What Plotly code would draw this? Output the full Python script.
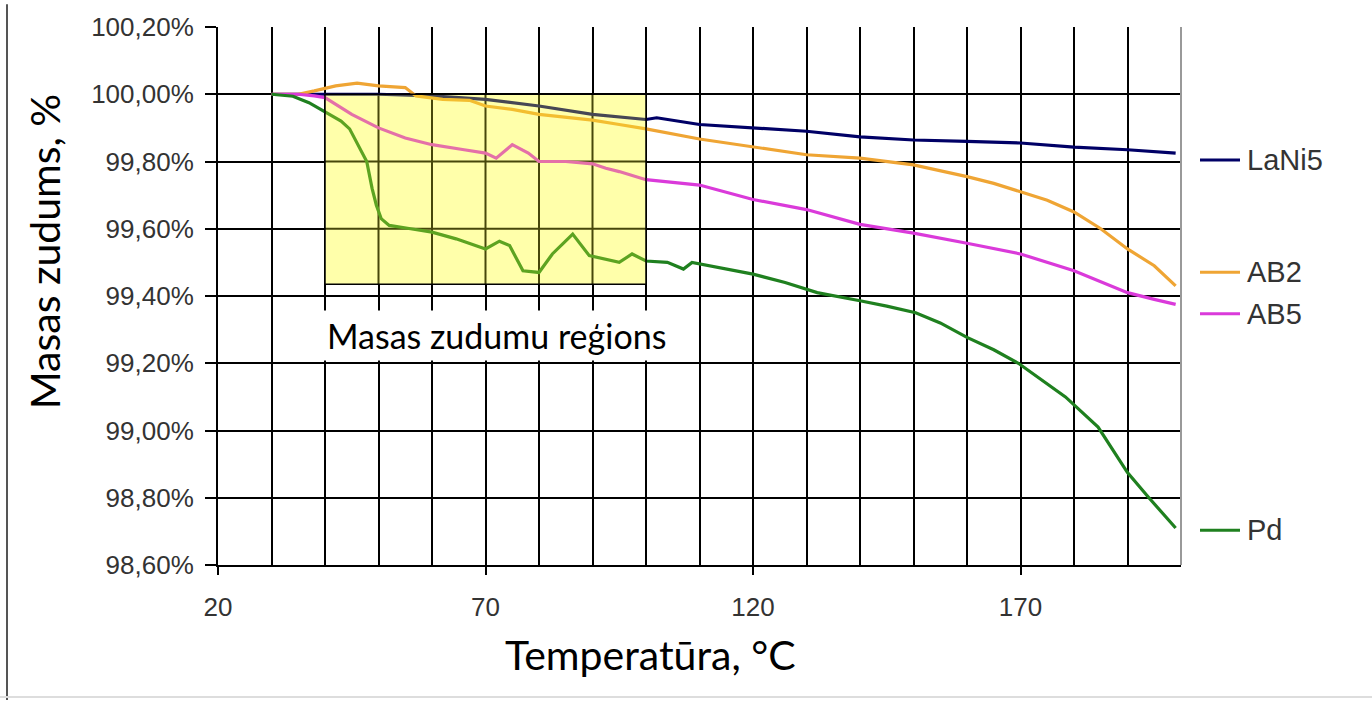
import plotly.graph_objects as go

# ---- data ----
lani5_T = [30, 35, 40, 50, 60, 70, 80, 90, 100, 102, 110, 120, 130, 140, 150, 160, 170, 180, 190, 199]
lani5_v = [100.00, 100.00, 100.00, 100.00, 99.995, 99.985, 99.965, 99.94, 99.925, 99.93, 99.91, 99.90,
           99.89, 99.873, 99.864, 99.86, 99.855, 99.843, 99.835, 99.825]

ab2_T = [30, 35, 38, 42, 46, 50, 55, 57, 62, 67, 70, 75, 80, 85, 90, 95, 100, 110, 120, 130, 140, 150,
         160, 165, 170, 175, 180, 185, 190, 195, 199]
ab2_v = [100.00, 100.00, 100.01, 100.025, 100.033, 100.025, 100.02, 99.995, 99.985, 99.982, 99.965, 99.955,
         99.94, 99.932, 99.923, 99.91, 99.897, 99.867, 99.843, 99.82, 99.81, 99.79, 99.755, 99.735, 99.71,
         99.685, 99.65, 99.60, 99.54, 99.49, 99.43]

ab5_T = [30, 35, 38, 40, 45, 50, 55, 60, 66, 70, 72, 75, 78, 80, 85, 90, 92.5, 95, 100, 110, 120, 130,
         140, 150, 160, 170, 180, 190, 195, 199]
ab5_v = [100.00, 100.00, 99.995, 99.99, 99.94, 99.90, 99.87, 99.85, 99.835, 99.825, 99.81, 99.85, 99.825,
         99.80, 99.80, 99.793, 99.78, 99.77, 99.746, 99.73, 99.687, 99.657, 99.613, 99.587, 99.557, 99.525,
         99.475, 99.41, 99.39, 99.375]

pd_T = [30, 34, 37, 40, 43, 44.6, 46.5, 47.8, 48.8, 49.6, 50.5, 52, 56, 60, 64.5, 68, 70, 72.6, 74.5, 77,
        80, 82.5, 86.3, 89.4, 92, 95, 97.4, 100, 104, 107, 108.6, 112, 120, 126, 132, 140, 145, 150.4, 155,
        160, 165, 169.6, 174, 178.4, 184.5, 190, 194, 199]
pd_v = [100.00, 99.994, 99.975, 99.947, 99.92, 99.897, 99.84, 99.80, 99.72, 99.67, 99.63, 99.61, 99.60,
        99.59, 99.57, 99.55, 99.54, 99.563, 99.55, 99.475, 99.47, 99.525, 99.584, 99.52, 99.51, 99.50,
        99.525, 99.504, 99.50, 99.48, 99.50, 99.49, 99.465, 99.44, 99.41, 99.386, 99.37, 99.35, 99.32,
        99.277, 99.24, 99.20, 99.15, 99.10, 99.01, 98.875, 98.80, 98.71]

series_names = ["LaNi5", "AB2", "AB5", "Pd"]
series_T = [lani5_T, ab2_T, ab5_T, pd_T]
series_v = [lani5_v, ab2_v, ab5_v, pd_v]
series_colors = ["#000066", "#EFA534", "#DA3ADA", "#1F801F"]

x_ticks = [20, 70, 120, 170]
x_grid = [20, 30, 40, 50, 60, 70, 80, 90, 100, 110, 120, 130, 140, 150, 160, 170, 180, 190, 200]
y_ticks = [98.6, 98.8, 99.0, 99.2, 99.4, 99.6, 99.8, 100.0, 100.2]
y_ticklabels = ["98,60%", "98,80%", "99,00%", "99,20%", "99,40%", "99,60%", "99,80%", "100,00%", "100,20%"]

region_x = [40, 100]
region_y = [99.435, 100.0]
region_label = "Masas zudumu reģions"

x_title = "Temperatūra, °C"
y_title = "Masas zudums, %"

# ---- figure ----
fig = go.Figure()
for name, T, v, c in zip(series_names, series_T, series_v, series_colors):
    fig.add_trace(go.Scatter(x=T, y=v, mode="lines", name=name,
                             line=dict(color=c, width=3.2), showlegend=False))

W, H = 1372, 701
L, R, TOP, B = 218, 191, 23, 136
pw, ph = W - L - R, H - TOP - B

def px_x(p):
    return (p - L) / pw

def px_y(p):
    return (H - B - p) / ph

tick_font = dict(family="Liberation Sans, Arial", size=26, color="#333333")

fig.update_layout(
    width=W, height=H,
    margin=dict(l=L, r=R, t=TOP, b=B, pad=0),
    plot_bgcolor="white", paper_bgcolor="white",
    xaxis=dict(range=[20, 200], tickvals=x_ticks, ticks="outside", ticklen=8, tickwidth=2,
               tickcolor="black", showgrid=True, gridcolor="black", gridwidth=2,
               minor=dict(tick0=20, dtick=10, showgrid=True, gridcolor="black", gridwidth=2, ticks=""),
               showline=True, linecolor="black", linewidth=2, zeroline=False,
               tickfont=tick_font, ticklabelstandoff=10),
    yaxis=dict(range=[98.6, 100.2], tickvals=y_ticks, ticktext=y_ticklabels, ticks="outside",
               ticklen=11, tickwidth=2, tickcolor="black", showgrid=True, gridcolor="black",
               gridwidth=2, showline=True, linecolor="black", linewidth=2, zeroline=False,
               tickfont=tick_font, ticklabelstandoff=6),
)

shapes = []
# highlighted region: pale yellow base (below the lines) ...
shapes.append(dict(type="rect", xref="x", yref="y", x0=region_x[0], x1=region_x[1],
                   y0=region_y[0], y1=region_y[1], fillcolor="#FFFFDD",
                   line=dict(width=0), layer="between"))
# ... with the grid redrawn on top of it (from the axis grid values) ...
for gx in x_grid:
    if region_x[0] < gx < region_x[1]:
        shapes.append(dict(type="line", xref="x", yref="y", x0=gx, x1=gx, y0=region_y[0],
                           y1=region_y[1], line=dict(color="black", width=2), layer="between"))
for gy in y_ticks:
    if region_y[0] < gy < region_y[1]:
        shapes.append(dict(type="line", xref="x", yref="y", x0=region_x[0], x1=region_x[1],
                           y0=gy, y1=gy, line=dict(color="black", width=2), layer="between"))
# ... and a translucent yellow tint above the lines
shapes.append(dict(type="rect", xref="x", yref="y", x0=region_x[0], x1=region_x[1],
                   y0=region_y[0], y1=region_y[1], fillcolor="rgba(255,255,40,0.28)",
                   line=dict(color="black", width=1.5), layer="above"))
# right plot border (grey)
shapes.append(dict(type="line", xref="paper", yref="paper", x0=1, x1=1, y0=0, y1=1,
                   line=dict(color="#999999", width=2)))
# frame lines of the slide
shapes.append(dict(type="line", xref="paper", yref="paper", x0=px_x(7), x1=px_x(7),
                   y0=px_y(701), y1=px_y(0), line=dict(color="#555555", width=2)))
shapes.append(dict(type="line", xref="paper", yref="paper", x0=px_x(0), x1=px_x(1372),
                   y0=px_y(698), y1=px_y(698), line=dict(color="#dddddd", width=2)))

# label lines at the right (Excel-style series labels)
label_py = [157, 270, 312, 530]
annotations = []
for name, c, py in zip(series_names, series_colors, label_py):
    shapes.append(dict(type="line", xref="paper", yref="paper", x0=px_x(1200), x1=px_x(1240),
                       y0=px_y(py), y1=px_y(py), line=dict(color=c, width=3)))
    annotations.append(dict(xref="paper", yref="paper", x=px_x(1245), y=px_y(py), text=name,
                            showarrow=False, xanchor="left", yanchor="middle",
                            font=dict(family="Liberation Sans, Arial", size=29, color="#333333")))

annotations.append(dict(xref="paper", yref="paper", x=px_x(496), y=px_y(334), text=region_label,
                        showarrow=False, xanchor="center", yanchor="middle", bgcolor="white",
                        borderpad=4, font=dict(family="Lato", size=34, color="black")))
annotations.append(dict(xref="paper", yref="paper", x=px_x(650), y=px_y(655), text=x_title,
                        showarrow=False, xanchor="center", yanchor="middle",
                        font=dict(family="Lato", size=41, color="black")))
annotations.append(dict(xref="paper", yref="paper", x=px_x(44), y=px_y(249), text=y_title,
                        showarrow=False, xanchor="center", yanchor="middle", textangle=-90,
                        font=dict(family="Lato", size=41, color="black")))

fig.update_layout(shapes=shapes, annotations=annotations)
fig.write_html("out.html", config={"displayModeBar": False},
               post_script="document.body.style.margin='0px';")
